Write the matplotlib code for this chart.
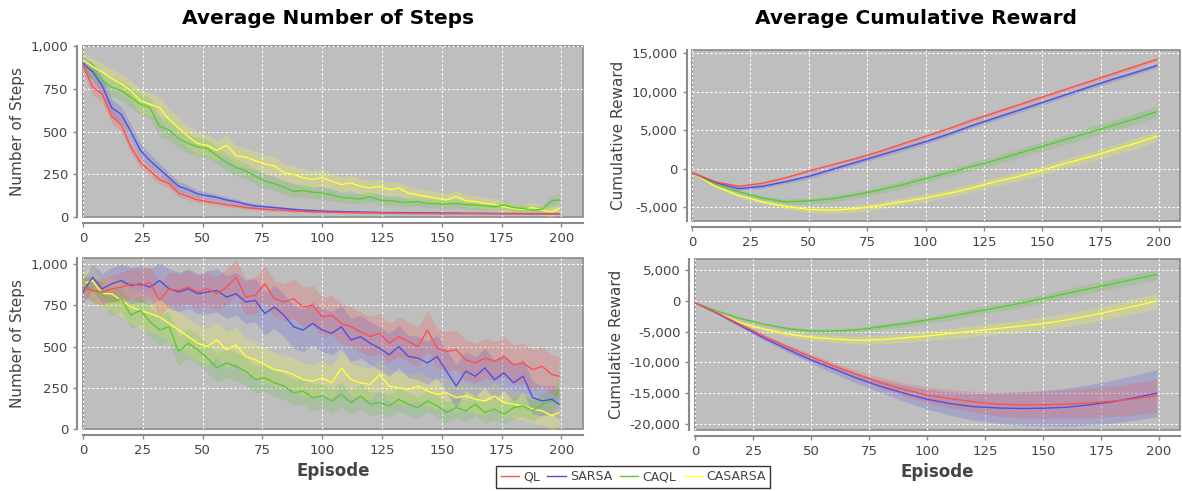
import matplotlib.pyplot as plt
from matplotlib.ticker import FuncFormatter, MultipleLocator

### DATA
names = ['QL', 'SARSA', 'CAQL', 'CASARSA']
colors = ['#FF5050', '#5050E0', '#5CC83A', '#FFFF3C']

# episodes where the noisy step curves were read
ep_steps = [0, 4, 8, 12, 16, 20, 24, 28, 32, 36,
            40, 44, 48, 52, 56, 60, 64, 68, 72, 76,
            80, 84, 88, 92, 96, 100, 104, 108, 112, 116,
            120, 124, 128, 132, 136, 140, 144, 148, 152, 156,
            160, 164, 168, 172, 176, 180, 184, 188, 192, 196,
            199]
# episodes where the (smooth) cumulative reward curves were read
ep_reward = [0, 10, 20, 30, 40, 50, 60, 70, 80, 90, 100,
             110, 120, 130, 140, 150, 160, 170, 180, 190, 199]

# top left: average number of steps (first setting)
ql_steps_a = [890, 760, 720, 590, 540, 410, 320, 270, 220, 195,
              140, 120, 100, 90, 82, 72, 65, 55, 50, 45,
              42, 40, 35, 34, 30, 30, 28, 27, 26, 25,
              24, 24, 23, 22, 22, 21, 21, 20, 20, 20,
              20, 20, 19, 19, 19, 19, 19, 18, 18, 18,
              18]
sarsa_steps_a = [900, 850, 770, 640, 600, 500, 390, 330, 280, 230,
                 180, 160, 135, 125, 115, 100, 90, 75, 65, 60,
                 55, 50, 45, 40, 38, 35, 33, 32, 30, 29,
                 28, 27, 26, 26, 25, 25, 24, 24, 23, 23,
                 22, 22, 22, 21, 21, 21, 20, 20, 20, 20,
                 20]
caql_steps_a = [880, 860, 800, 760, 740, 700, 660, 640, 530, 510,
                460, 430, 410, 400, 360, 320, 290, 270, 240, 210,
                195, 175, 150, 155, 145, 140, 130, 115, 110, 105,
                120, 100, 95, 90, 85, 90, 80, 78, 75, 80,
                72, 70, 65, 60, 70, 55, 50, 40, 45, 95,
                100]
casarsa_steps_a = [920, 880, 850, 810, 780, 740, 680, 660, 640, 570,
                   520, 470, 430, 420, 390, 420, 360, 350, 330, 310,
                   300, 260, 250, 230, 220, 230, 210, 190, 200, 180,
                   170, 180, 160, 170, 140, 130, 120, 110, 100, 120,
                   95, 90, 80, 75, 60, 50, 45, 55, 40, 30,
                   50]
ql_steps_a_sd = [40, 45, 45, 40, 40, 35, 35, 30, 28, 25,
                 22, 20, 18, 16, 14, 12, 11, 10, 9, 8,
                 8, 7, 7, 6, 6, 6, 5, 5, 5, 5,
                 5, 5, 4, 4, 4, 4, 4, 4, 4, 4,
                 4, 3, 3, 3, 3, 3, 3, 3, 3, 3,
                 3]
sarsa_steps_a_sd = [40, 50, 50, 50, 45, 45, 40, 40, 35, 30,
                    28, 25, 22, 20, 18, 16, 15, 14, 12, 10,
                    10, 9, 8, 8, 7, 7, 6, 6, 6, 6,
                    5, 5, 5, 5, 5, 5, 5, 4, 4, 4,
                    4, 4, 4, 4, 4, 4, 4, 4, 4, 4,
                    4]
caql_steps_a_sd = [40, 50, 50, 55, 55, 60, 60, 60, 60, 60,
                   60, 55, 55, 55, 50, 50, 50, 45, 45, 45,
                   40, 40, 40, 35, 35, 35, 35, 30, 30, 30,
                   30, 30, 28, 28, 28, 26, 26, 26, 25, 25,
                   25, 25, 24, 24, 24, 24, 24, 24, 25, 30,
                   35]
casarsa_steps_a_sd = [40, 50, 50, 55, 60, 60, 65, 65, 65, 65,
                      65, 65, 65, 60, 60, 60, 60, 55, 55, 55,
                      55, 50, 50, 50, 50, 50, 45, 45, 45, 45,
                      45, 40, 40, 40, 40, 38, 38, 36, 36, 35,
                      35, 34, 34, 33, 33, 32, 32, 31, 30, 30,
                      30]

# bottom left: average number of steps (second setting)
ql_steps_b = [860, 840, 830, 850, 860, 880, 870, 890, 780, 850,
              840, 860, 830, 850, 820, 860, 920, 800, 810, 880,
              790, 770, 790, 740, 750, 680, 690, 640, 620, 590,
              560, 580, 520, 560, 530, 500, 600, 490, 470, 480,
              420, 400, 430, 410, 440, 390, 400, 360, 380, 330,
              320]
sarsa_steps_b = [830, 920, 850, 880, 900, 870, 880, 860, 900, 850,
                 830, 850, 820, 830, 840, 800, 820, 770, 780, 700,
                 740, 690, 620, 600, 640, 600, 580, 620, 540, 560,
                 520, 490, 450, 500, 440, 430, 400, 440, 350, 260,
                 350, 320, 370, 300, 340, 280, 320, 190, 170, 180,
                 150]
caql_steps_b = [890, 840, 820, 770, 790, 690, 720, 650, 600, 620,
                470, 520, 480, 430, 370, 400, 380, 350, 300, 310,
                280, 260, 220, 230, 190, 200, 170, 210, 160, 200,
                150, 160, 140, 180, 150, 130, 170, 140, 100, 130,
                110, 150, 100, 120, 90, 130, 140, 110, 150, 170,
                240]
casarsa_steps_b = [880, 900, 820, 820, 780, 740, 720, 700, 680, 640,
                   600, 560, 520, 500, 540, 480, 510, 440, 420, 390,
                   360, 350, 330, 300, 290, 310, 280, 370, 300, 280,
                   270, 330, 260, 250, 240, 260, 230, 210, 220, 190,
                   200, 180, 170, 200, 160, 150, 140, 120, 110, 80,
                   100]
ql_steps_b_sd = [60, 70, 80, 80, 90, 90, 100, 100, 100, 100,
                 100, 100, 100, 100, 100, 110, 110, 110, 110, 110,
                 110, 110, 120, 120, 120, 120, 120, 120, 120, 120,
                 120, 120, 120, 120, 120, 120, 120, 120, 120, 120,
                 120, 120, 120, 120, 120, 120, 120, 120, 120, 120,
                 120]
sarsa_steps_b_sd = [70, 80, 90, 100, 100, 110, 110, 110, 110, 120,
                    120, 120, 120, 130, 130, 130, 130, 130, 130, 130,
                    130, 130, 130, 130, 130, 130, 130, 130, 130, 130,
                    130, 130, 130, 130, 130, 130, 130, 130, 130, 130,
                    120, 120, 120, 120, 110, 110, 100, 100, 90, 90,
                    90]
caql_steps_b_sd = [60, 70, 70, 80, 80, 80, 90, 90, 90, 90,
                   90, 90, 90, 90, 90, 90, 85, 85, 85, 85,
                   80, 80, 80, 80, 80, 75, 75, 75, 75, 75,
                   70, 70, 70, 70, 70, 70, 65, 65, 65, 65,
                   65, 65, 65, 65, 65, 65, 65, 65, 65, 70,
                   70]
casarsa_steps_b_sd = [70, 80, 90, 100, 100, 100, 110, 110, 110, 110,
                      110, 110, 110, 110, 110, 110, 110, 110, 110, 110,
                      100, 100, 100, 100, 100, 100, 100, 100, 100, 100,
                      95, 95, 95, 95, 90, 90, 90, 90, 90, 90,
                      85, 85, 85, 85, 85, 85, 85, 85, 85, 85,
                      85]

# top right: average cumulative reward (first setting)
ql_reward_a = [-500, -1700, -2300, -1900, -1200, -300, 500, 1300, 2200, 3200, 4200,
               5200, 6300, 7300, 8300, 9300, 10300, 11300, 12300, 13300, 14200]
sarsa_reward_a = [-500, -1800, -2600, -2300, -1700, -1000, -100, 800, 1700, 2600, 3500,
                  4500, 5600, 6600, 7600, 8600, 9600, 10600, 11600, 12500, 13400]
caql_reward_a = [-500, -2000, -3000, -3800, -4300, -4200, -3900, -3400, -2800, -2100, -1300,
                 -500, 300, 1100, 2000, 2900, 3800, 4700, 5600, 6500, 7400]
casarsa_reward_a = [-500, -2300, -3500, -4300, -4900, -5300, -5400, -5200, -4800, -4300, -3800,
                    -3200, -2500, -1700, -1000, -200, 700, 1500, 2400, 3300, 4200]
ql_reward_a_sd = [50, 100, 150, 150, 150, 200, 200, 200, 200, 200, 250,
                  250, 250, 250, 250, 250, 250, 250, 250, 250, 250]
sarsa_reward_a_sd = [50, 100, 200, 250, 250, 300, 300, 300, 300, 300, 300,
                     300, 300, 300, 300, 300, 300, 300, 300, 300, 300]
caql_reward_a_sd = [50, 150, 250, 300, 350, 400, 400, 450, 450, 500, 500,
                    500, 550, 550, 600, 600, 600, 650, 650, 700, 700]
casarsa_reward_a_sd = [50, 150, 250, 300, 350, 400, 400, 450, 450, 500, 500,
                       500, 550, 550, 600, 600, 600, 650, 650, 700, 700]

# bottom right: average cumulative reward (second setting)
ql_reward_b = [-300, -2000, -3900, -5800, -7500, -9100, -10600, -12000, -13300, -14400, -15300,
               -15900, -16400, -16800, -16900, -16900, -16800, -16600, -16300, -15900, -15400]
sarsa_reward_b = [-300, -2100, -4100, -6100, -7900, -9600, -11100, -12600, -13900, -15000, -16000,
                  -16700, -17200, -17400, -17500, -17450, -17300, -16900, -16400, -15700, -15000]
caql_reward_b = [-300, -1700, -2900, -3800, -4500, -4900, -4900, -4700, -4200, -3700, -3100,
                 -2500, -1800, -1100, -400, 400, 1200, 2000, 2800, 3600, 4300]
casarsa_reward_b = [-300, -2000, -3600, -4600, -5400, -5900, -6200, -6400, -6300, -6000, -5700,
                    -5300, -4900, -4500, -4100, -3700, -3100, -2400, -1600, -800, 0]
ql_reward_b_sd = [50, 150, 200, 300, 400, 500, 600, 700, 900, 1100, 1300,
                  1500, 1700, 1900, 2100, 2200, 2300, 2400, 2500, 2600, 2700]
sarsa_reward_b_sd = [50, 150, 250, 350, 450, 550, 700, 850, 1000, 1300, 1600,
                     1900, 2200, 2500, 2700, 2900, 3100, 3300, 3500, 3700, 3800]
caql_reward_b_sd = [50, 100, 150, 200, 250, 300, 350, 400, 450, 500, 550,
                    600, 650, 650, 700, 700, 750, 750, 800, 800, 850]
casarsa_reward_b_sd = [50, 150, 250, 350, 450, 500, 600, 650, 700, 750, 800,
                       850, 900, 950, 1000, 1050, 1100, 1150, 1200, 1250, 1300]


def draw(ax, x, series, bands, ylim, ystep):
    # plot last series first so QL ends up on top
    for i in [3, 2, 1, 0]:
        y = series[i]
        lo = [v - s for v, s in zip(y, bands[i])]
        hi = [v + s for v, s in zip(y, bands[i])]
        ax.fill_between(x, lo, hi, color=colors[i], alpha=0.22, lw=0)
        ax.plot(x, y, color=colors[i], lw=1.0)
    ax.set_xlim(0, 209)
    ax.set_ylim(*ylim)
    ax.xaxis.set_major_locator(MultipleLocator(25))
    ax.yaxis.set_major_locator(MultipleLocator(ystep))
    ax.yaxis.set_major_formatter(FuncFormatter(lambda v, p: f'{int(round(v)):,}'))
    ax.set_facecolor('#BEBEBE')
    ax.patch.set_edgecolor('#8A8A8A')
    ax.patch.set_linewidth(1.2)
    for side in ['top', 'right']:
        ax.spines[side].set_visible(False)
    for side in ['left', 'bottom']:
        ax.spines[side].set_position(('outward', 4))
        ax.spines[side].set_color('#8A8A8A')
        ax.spines[side].set_linewidth(1.5)
    ax.grid(True, color='white', linestyle=(0, (2, 2)), linewidth=0.8)
    ax.set_axisbelow(True)
    ax.tick_params(direction='out', length=3, width=1, colors='#8A8A8A',
                   labelcolor='#444444', labelsize=9.5)


fig = plt.figure(figsize=(11.82, 4.91), dpi=100)
ax1 = fig.add_axes([0.0702, 0.558, 0.423, 0.348])
ax2 = fig.add_axes([0.0702, 0.1263, 0.423, 0.348])
ax3 = fig.add_axes([0.5855, 0.5499, 0.4129, 0.348])
ax4 = fig.add_axes([0.588, 0.1242, 0.4103, 0.348])

draw(ax1, ep_steps, [ql_steps_a, sarsa_steps_a, caql_steps_a, casarsa_steps_a],
     [ql_steps_a_sd, sarsa_steps_a_sd, caql_steps_a_sd, casarsa_steps_a_sd], (0, 1000), 250)
draw(ax2, ep_steps, [ql_steps_b, sarsa_steps_b, caql_steps_b, casarsa_steps_b],
     [ql_steps_b_sd, sarsa_steps_b_sd, caql_steps_b_sd, casarsa_steps_b_sd], (0, 1036), 250)
draw(ax3, ep_reward, [ql_reward_a, sarsa_reward_a, caql_reward_a, casarsa_reward_a],
     [ql_reward_a_sd, sarsa_reward_a_sd, caql_reward_a_sd, casarsa_reward_a_sd], (-6800, 15400), 5000)
draw(ax4, ep_reward, [ql_reward_b, sarsa_reward_b, caql_reward_b, casarsa_reward_b],
     [ql_reward_b_sd, sarsa_reward_b_sd, caql_reward_b_sd, casarsa_reward_b_sd], (-21000, 6800), 5000)

for ax in [ax1, ax2]:
    ax.set_ylabel('Number of Steps', fontsize=11, color='#444444')
for ax in [ax3, ax4]:
    ax.set_ylabel('Cumulative Reward', fontsize=11, color='#444444')
for ax in [ax2, ax4]:
    ax.set_xlabel('Episode', fontsize=12, color='#444444', fontweight='bold')

fig.text(328 / 1182, 1 - 18 / 491, 'Average Number of Steps', ha='center', va='center',
         fontsize=14.5, fontweight='bold')
fig.text(916 / 1182, 1 - 18 / 491, 'Average Cumulative Reward', ha='center', va='center',
         fontsize=14.5, fontweight='bold')

handles = [plt.Line2D([], [], color=c, lw=1.0) for c in colors]
leg = fig.legend(handles, names, loc='upper center', bbox_to_anchor=(633 / 1182, 1 - 466 / 491),
                 ncol=4, fontsize=9, frameon=True, fancybox=False, handlelength=1.5,
                 handletextpad=0.3, columnspacing=0.6, borderpad=0.35, borderaxespad=0,
                 labelcolor='#444444')
leg.get_frame().set_edgecolor('black')
leg.get_frame().set_linewidth(1)

fig.savefig('out.png', dpi=100)
